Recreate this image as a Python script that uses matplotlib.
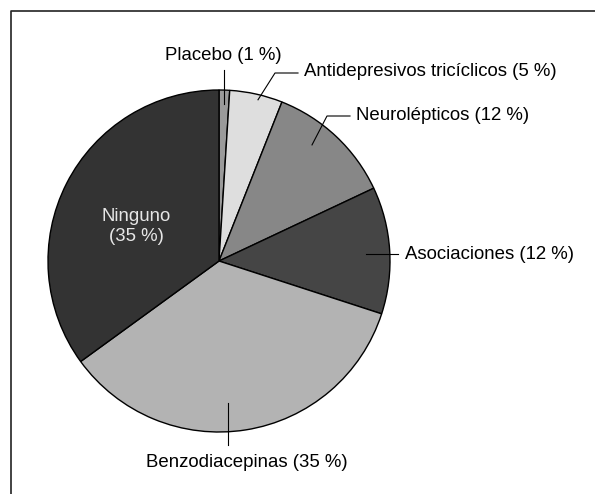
import numpy as np
import matplotlib
matplotlib.use("Agg")
import matplotlib.pyplot as plt

plt.rcParams['font.family'] = ['Liberation Sans', 'DejaVu Sans']

labels = ["Placebo", "Antidepresivos tricíclicos", "Neurolépticos",
          "Asociaciones", "Benzodiacepinas", "Ninguno"]
shares = [1, 5, 12, 12, 35, 35]
colors = ["#9a9a9a", "#dedede", "#878787", "#454545", "#b3b3b3", "#333333"]

W, H = 595, 494
fig = plt.figure(figsize=(W / 100, H / 100), dpi=100)
ax = fig.add_axes([0, 0, 1, 1])

cx, cy, r = 219, H - 261, 171
wedges, _ = ax.pie(shares, colors=colors, startangle=90, counterclock=False,
                   center=(cx, cy), radius=r, frame=True,
                   wedgeprops=dict(edgecolor="black", linewidth=1.0))
ax.set_xlim(0, W)
ax.set_ylim(0, H)
ax.axis("off")

# frame (top and left edges)
ax.plot([11, 11, W], [0, H - 11, H - 11], color="#222222", lw=1.2)


def point(w, frac, shift=0.0):
    ang = np.deg2rad((w.theta1 + w.theta2) / 2 + shift)
    return cx + frac * r * np.cos(ang), cy + frac * r * np.sin(ang)


def txt(s):
    return f"{s[0]} ({s[1]} %)"


fs = 13.4
line_kw = dict(color="black", lw=0.8)
items = list(zip(labels, shares))

# Placebo
x0, y0 = point(wedges[0], 0.92)
ax.plot([x0, x0], [y0, H - 70], **line_kw)
ax.text(x0 - 1, H - 56, txt(items[0]), ha="center", va="center", fontsize=fs)

# Antidepresivos
x0, y0 = point(wedges[1], 0.97, -1)
ax.plot([x0, 275, 298], [y0, H - 73, H - 73], **line_kw)
ax.text(304, H - 72, txt(items[1]), ha="left", va="center", fontsize=fs)

# Neurolépticos
x0, y0 = point(wedges[2], 0.87, 4.5)
ax.plot([x0, 327, 350], [y0, H - 116, H - 116], **line_kw)
ax.text(356, H - 115, txt(items[2]), ha="left", va="center", fontsize=fs)

# Asociaciones
x0, y0 = point(wedges[3], 0.86, -0.9)
ax.plot([x0, 398], [y0, y0], **line_kw)
ax.text(405, y0, txt(items[3]), ha="left", va="center", fontsize=fs)

# Benzodiacepinas
x0, y0 = point(wedges[4], 0.83, -5.4)
ax.plot([x0, x0], [y0, H - 445], **line_kw)
ax.text(247, H - 462, txt(items[4]), ha="center", va="center", fontsize=fs)

# Ninguno inside
x0, y0 = point(wedges[5], 0.53)
ax.text(x0 - 2, y0 - 7, f"{items[5][0]}\n({items[5][1]} %)", ha="center",
        va="center", fontsize=fs, color="#e6e6e6", linespacing=1.25)

fig.savefig("out.png", dpi=100)
